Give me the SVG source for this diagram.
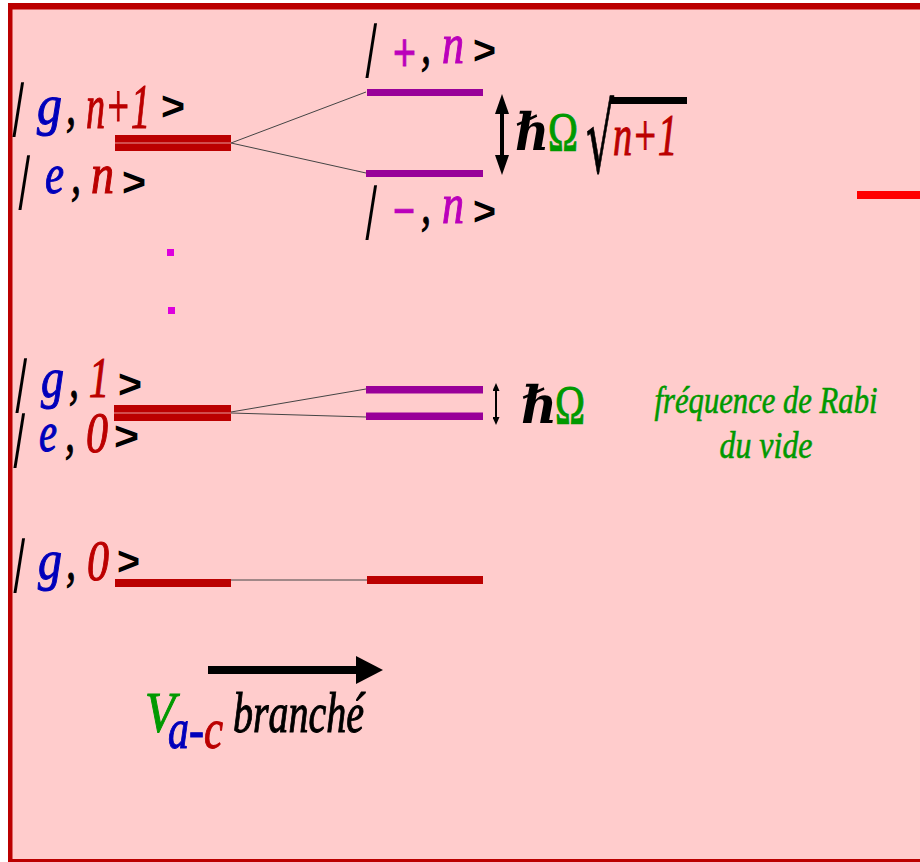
<svg xmlns="http://www.w3.org/2000/svg" width="920" height="862" viewBox="0 0 920 862">
<style>
.t{font-family:"Liberation Serif","DejaVu Serif",serif;font-style:italic;stroke-width:1.1;}
.u{font-family:"Liberation Serif","DejaVu Serif",serif;stroke-width:1.1;}
.thin{stroke-width:0.6;}
.s{font-family:"Liberation Sans",sans-serif;fill:#000;font-size:40px;font-weight:bold;}
.op{font-family:"Liberation Sans",sans-serif;font-size:54px;}
.bar{font-family:"Liberation Serif",serif;font-size:60px;fill:#000;}
.k{fill:#000;stroke:#000}
.b{fill:#0000bb;stroke:#0000bb}
.r{fill:#bb0000;stroke:#bb0000}
.m{fill:#bb00bb;stroke:#bb00bb}
.gr{fill:#009900;stroke:#009900}
.lvl{fill:#bb0000}
.pl{fill:#990099}
.gap{stroke:#e89a9a;stroke-width:1}
.conn line{stroke:#444;stroke-width:1}
.arr{stroke:#000;fill:none}
</style>
<defs>
<marker id="ah1" markerUnits="userSpaceOnUse" viewBox="0 0 20 14" markerWidth="20" markerHeight="14" refX="10" refY="7" orient="auto-start-reverse"><path d="M0,0 L20,7 L0,14 z" fill="#000"/></marker>
<marker id="ah2" markerUnits="userSpaceOnUse" viewBox="0 0 8 7" markerWidth="8" markerHeight="7" refX="4" refY="3.5" orient="auto-start-reverse"><path d="M0,0 L8,3.5 L0,7 z" fill="#000"/></marker>
<marker id="ah3" markerUnits="userSpaceOnUse" viewBox="0 0 27 28" markerWidth="27" markerHeight="28" refX="13" refY="14" orient="auto"><path d="M0,0 L27,14 L0,28 z" fill="#000"/></marker>
</defs>

<rect x="0" y="0" width="920" height="862" fill="#ffffff"/>
<rect x="8" y="3" width="912" height="859" fill="#ffcccc"/>
<rect x="8" y="3" width="912" height="6.5" fill="#bb0000"/>
<rect x="8" y="3" width="4.5" height="859" fill="#bb0000"/>
<rect x="8" y="859" width="912" height="3" fill="#bb0000"/>

<g id="connectors" class="conn">
<line x1="231" y1="143" x2="366" y2="92"/>
<line x1="231" y1="143" x2="366" y2="173"/>
<line x1="231" y1="412" x2="366" y2="389"/>
<line x1="231" y1="413" x2="366" y2="417"/>
<line x1="231" y1="580" x2="367" y2="580"/>
</g>

<g id="level-g-n1-e-n">
<rect class="lvl" x="115" y="135" width="116" height="16"/>
<line class="gap" x1="115" y1="143" x2="231" y2="143"/>
<text class="bar" transform="translate(16,124) skewX(-9)" text-anchor="middle">|</text>
<text class="t b" x="37" y="124" font-size="56" textLength="25" lengthAdjust="spacingAndGlyphs">g</text>
<text class="t k" x="66" y="124" font-size="56" textLength="10" lengthAdjust="spacingAndGlyphs">,</text>
<text class="t r" x="86" y="128" font-size="64" textLength="64" lengthAdjust="spacingAndGlyphs">n+1</text>
<text class="s" x="161" y="120" textLength="24" lengthAdjust="spacingAndGlyphs">&gt;</text>
<text class="bar" transform="translate(22,197) skewX(-9)" text-anchor="middle">|</text>
<text class="t b" x="45" y="193" font-size="56" textLength="19" lengthAdjust="spacingAndGlyphs">e</text>
<text class="t k" x="71" y="193" font-size="56" textLength="10" lengthAdjust="spacingAndGlyphs">,</text>
<text class="t r" x="91" y="193" font-size="56" textLength="23" lengthAdjust="spacingAndGlyphs">n</text>
<text class="s" x="122" y="196" textLength="24" lengthAdjust="spacingAndGlyphs">&gt;</text>
</g>

<g id="level-plus-n">
<rect class="pl" x="367" y="89" width="116" height="7"/>
<text class="bar" transform="translate(369,65) skewX(-9)" text-anchor="middle">|</text>
<text class="op m" x="393" y="71" stroke-width="0.8" textLength="23" lengthAdjust="spacingAndGlyphs">+</text>
<text class="t k" x="421" y="63" font-size="56" textLength="10" lengthAdjust="spacingAndGlyphs">,</text>
<text class="t m" x="442" y="63" font-size="56" textLength="22" lengthAdjust="spacingAndGlyphs">n</text>
<text class="s" x="473" y="64" textLength="23" lengthAdjust="spacingAndGlyphs">&gt;</text>
</g>

<g id="level-minus-n">
<rect class="pl" x="366" y="170" width="117" height="7"/>
<text class="bar" transform="translate(369,227) skewX(-9)" text-anchor="middle">|</text>
<text class="op m" x="393" y="229" stroke-width="0.8" textLength="22" lengthAdjust="spacingAndGlyphs">−</text>
<text class="t k" x="421" y="223" font-size="56" textLength="10" lengthAdjust="spacingAndGlyphs">,</text>
<text class="t m" x="442" y="223" font-size="56" textLength="22" lengthAdjust="spacingAndGlyphs">n</text>
<text class="s" x="473" y="225" textLength="23" lengthAdjust="spacingAndGlyphs">&gt;</text>
</g>

<g id="splitting-n">
<line class="arr" x1="502" y1="104" x2="502" y2="165" stroke-width="4" marker-start="url(#ah1)" marker-end="url(#ah1)"/>
<text x="515" y="150" font-family="DejaVu Serif" font-style="italic" font-weight="bold" font-size="52" fill="#000" textLength="34" lengthAdjust="spacingAndGlyphs">ℏ</text>
<text class="u gr" x="548" y="150" font-size="54" textLength="30" lengthAdjust="spacingAndGlyphs">Ω</text>
<text x="586" y="172" font-family="DejaVu Sans" font-size="94" fill="#000" stroke="#000" stroke-width="1" textLength="28" lengthAdjust="spacingAndGlyphs">√</text>
<rect x="610" y="97" width="77" height="7" fill="#000"/>
<text class="t r" x="613" y="155" font-size="60" textLength="64" lengthAdjust="spacingAndGlyphs">n+1</text>
</g>

<g id="dots">
<rect x="167" y="249" width="7" height="7" fill="#dd00dd"/>
<rect x="168" y="307" width="7" height="7" fill="#dd00dd"/>
</g>

<g id="level-g1-e0">
<rect class="lvl" x="114" y="405" width="117" height="16"/>
<line class="gap" x1="114" y1="413" x2="231" y2="413"/>
<text class="bar" transform="translate(19,400) skewX(-9)" text-anchor="middle">|</text>
<text class="t b" x="41" y="397" font-size="56" textLength="23" lengthAdjust="spacingAndGlyphs">g</text>
<text class="t k" x="69" y="397" font-size="56" textLength="10" lengthAdjust="spacingAndGlyphs">,</text>
<text class="t r" x="89" y="397" font-size="56" textLength="20" lengthAdjust="spacingAndGlyphs">1</text>
<text class="s" x="118" y="398" textLength="24" lengthAdjust="spacingAndGlyphs">&gt;</text>
<text class="bar" transform="translate(17,455) skewX(-9)" text-anchor="middle">|</text>
<text class="t b" x="39" y="451" font-size="56" textLength="18" lengthAdjust="spacingAndGlyphs">e</text>
<text class="t k" x="65" y="451" font-size="56" textLength="10" lengthAdjust="spacingAndGlyphs">,</text>
<text class="t r" x="86" y="452" font-size="58" textLength="22" lengthAdjust="spacingAndGlyphs">0</text>
<text class="s" x="114" y="450" textLength="25" lengthAdjust="spacingAndGlyphs">&gt;</text>
</g>

<g id="level-pm-0">
<rect class="pl" x="366" y="386" width="117" height="7.5"/>
<rect class="pl" x="366" y="412.5" width="117" height="7.5"/>
</g>

<g id="splitting-0">
<line class="arr" x1="496" y1="387" x2="496" y2="421" stroke-width="2" marker-start="url(#ah2)" marker-end="url(#ah2)"/>
<text x="521" y="423" font-family="DejaVu Serif" font-style="italic" font-weight="bold" font-size="52" fill="#000" textLength="36" lengthAdjust="spacingAndGlyphs">ℏ</text>
<text class="u gr" x="555" y="423" font-size="54" textLength="30" lengthAdjust="spacingAndGlyphs">Ω</text>
</g>

<g id="rabi-label">
<text class="t gr thin" x="766" y="413" font-size="38" text-anchor="middle" textLength="223" lengthAdjust="spacingAndGlyphs">fréquence de Rabi</text>
<text class="t gr thin" x="766" y="458" font-size="38" text-anchor="middle" textLength="93" lengthAdjust="spacingAndGlyphs">du vide</text>
</g>

<g id="level-g0">
<rect class="lvl" x="115" y="579" width="116" height="8"/>
<rect class="lvl" x="367" y="576" width="116" height="8"/>
<text class="bar" transform="translate(17,580) skewX(-9)" text-anchor="middle">|</text>
<text class="t b" x="38" y="579" font-size="56" textLength="24" lengthAdjust="spacingAndGlyphs">g</text>
<text class="t k" x="66" y="579" font-size="56" textLength="10" lengthAdjust="spacingAndGlyphs">,</text>
<text class="t r" x="87" y="580" font-size="58" textLength="22" lengthAdjust="spacingAndGlyphs">0</text>
<text class="s" x="117" y="575" textLength="23" lengthAdjust="spacingAndGlyphs">&gt;</text>
</g>

<g id="coupling">
<line class="arr" x1="208" y1="670" x2="369" y2="670" stroke-width="8" marker-end="url(#ah3)"/>
<text class="t gr" x="145" y="732" font-size="58" textLength="30" lengthAdjust="spacingAndGlyphs">V</text>
<text class="t b" x="168" y="748" font-size="56" textLength="21" lengthAdjust="spacingAndGlyphs">a</text>
<text class="t b" x="189" y="748" font-size="56" textLength="15" lengthAdjust="spacingAndGlyphs">-</text>
<text class="t r" x="204" y="748" font-size="56" textLength="19" lengthAdjust="spacingAndGlyphs">c</text>
<text class="t k" x="233" y="732" font-size="58" textLength="131" lengthAdjust="spacingAndGlyphs">branché</text>
</g>

<rect x="857" y="191" width="63" height="8" fill="#ff0000"/>
</svg>
